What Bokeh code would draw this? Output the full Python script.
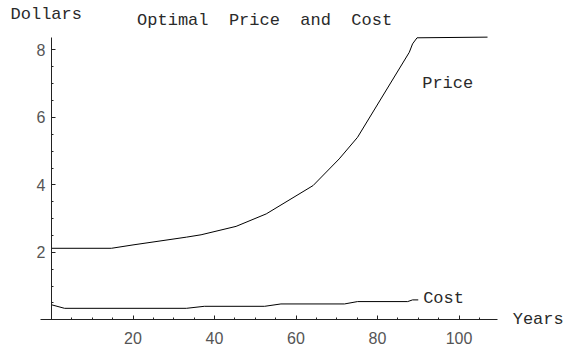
from bokeh.plotting import figure
from bokeh.models import FixedTicker, Label, Range1d
from bokeh.embed import file_html
from bokeh.resources import INLINE

# Optimal price path (dollars) by year
price_years = [0, 14.7, 20, 33.1, 36.7, 45.3, 52.7, 64.2, 70.6, 75.1, 87.8, 88.6, 89.7, 107.0]
price_vals = [2.12, 2.12, 2.22, 2.45, 2.52, 2.77, 3.14, 3.98, 4.77, 5.41, 7.93, 8.18, 8.36, 8.38]

# Marginal cost path (dollars) by year
cost_years = [0, 3.2, 33.1, 37.5, 52.3, 56.3, 71.9, 75.1, 87.4, 88.6, 90.0]
cost_vals = [0.445, 0.34, 0.34, 0.40, 0.40, 0.47, 0.47, 0.54, 0.54, 0.59, 0.59]

x_ticks = [20, 40, 60, 80, 100]
x_minor = [5, 10, 15, 25, 30, 35, 45, 50, 55, 65, 70, 75, 85, 90, 95, 105]
y_ticks = [2, 4, 6, 8]
y_minor = [0.5, 1, 1.5, 2.5, 3, 3.5, 4.5, 5, 5.5, 6.5, 7, 7.5]

mono = "Liberation Mono"
sans = "Liberation Sans"
NBSP = "\u00a0"

# The frame fills the whole canvas; the axes sit at x=0 / y=0 inside it.
p = figure(width=564, height=351, output_backend="svg", toolbar_location=None,
           x_range=Range1d(-12.52, 125.89), y_range=Range1d(-0.94, 9.466),
           min_border=0)
p.outline_line_color = None
p.grid.visible = False
p.background_fill_color = "white"
p.border_fill_color = "white"

p.line(price_years, price_vals, line_color="black", line_width=1)
p.line(cost_years, cost_vals, line_color="black", line_width=1)

for ax in (p.xaxis[0], p.yaxis[0]):
    ax.axis_line_color = "#222222"
    ax.axis_line_width = 1
    ax.major_tick_in = 4
    ax.major_tick_out = 0
    ax.minor_tick_in = 2
    ax.minor_tick_out = 0
    ax.major_tick_line_color = "#222222"
    ax.minor_tick_line_color = "#222222"
    ax.major_label_text_font = sans
    ax.major_label_text_font_size = "16px"
    ax.major_label_text_color = "#555555"

p.xaxis.ticker = FixedTicker(ticks=x_ticks, minor_ticks=x_minor)
p.yaxis.ticker = FixedTicker(ticks=y_ticks, minor_ticks=y_minor)
p.xaxis.fixed_location = 0
p.yaxis.fixed_location = 0
p.xaxis.bounds = (-2.7, 109.4)
p.yaxis.bounds = (0, 8.38)
p.xaxis.major_label_standoff = 12
p.yaxis.major_label_standoff = 6

def add_text(txt, x, y, align="left"):
    p.add_layout(Label(x=x, y=y, text=txt, text_font=mono, text_font_size="17px",
                       text_color="#2a2a2a", text_baseline="middle", text_align=align))

gap = NBSP * 2
add_text(gap.join(["Optimal", "Price", "and", "Cost"]), 21.0, 8.87)
add_text("Dollars", -10.06, 9.05)
add_text("Price", 90.97, 7.0)
add_text("Cost", 91.2, 0.62)
add_text("Years", 125.7, 0.0, align="right")

open("out.html", "w").write(file_html(p, INLINE))
